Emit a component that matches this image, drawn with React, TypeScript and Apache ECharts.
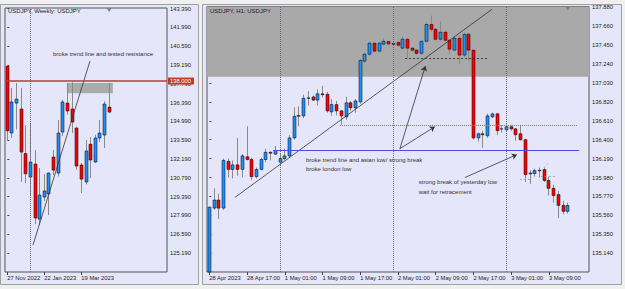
import React, { useEffect, useRef } from 'react';
import * as echarts from 'echarts';

// ---------------- Weekly chart data ----------------
const WEEK_LABELS = [
  '27 Nov 2022', '4 Dec 2022', '11 Dec 2022', '18 Dec 2022', '25 Dec 2022', '1 Jan 2023',
  '8 Jan 2023', '15 Jan 2023', '22 Jan 2023', '29 Jan 2023', '5 Feb 2023', '12 Feb 2023',
  '19 Feb 2023', '26 Feb 2023', '5 Mar 2023', '12 Mar 2023', '19 Mar 2023', '26 Mar 2023',
  '2 Apr 2023', '9 Apr 2023', '16 Apr 2023', '23 Apr 2023', '30 Apr 2023',
];
// open, high, low, close
const WEEK_OHLC: number[][] = [
  [139.1, 139.2, 133.6, 134.3],
  [134.13, 137.48, 133.76, 136.44],
  [136.36, 137.85, 134.4, 136.66],
  [135.92, 137.48, 130.48, 132.71],
  [132.6, 134.7, 130.4, 131.1],
  [130.85, 134.8, 129.5, 131.97],
  [131.82, 132.86, 127.35, 127.8],
  [127.72, 131.52, 127.3, 129.51],
  [129.36, 131.07, 129.07, 129.81],
  [129.59, 131.2, 128.02, 131.15],
  [132.34, 132.86, 131.0, 131.37],
  [131.15, 135.1, 130.9, 134.13],
  [134.2, 136.6, 133.9, 136.44],
  [136.36, 137.85, 135.5, 135.77],
  [135.92, 137.9, 134.13, 134.95],
  [134.5, 134.6, 131.4, 131.67],
  [131.75, 131.9, 129.66, 130.7],
  [130.48, 133.6, 130.3, 132.79],
  [133.3, 133.83, 130.78, 132.12],
  [131.97, 134.0, 131.9, 133.76],
  [133.76, 135.1, 133.46, 134.13],
  [133.98, 136.5, 133.01, 136.29],
  [136.06, 137.85, 135.6, 135.69],
];
const WEEK_PRICE_TICKS = [125.19, 126.59, 127.99, 129.39, 130.79, 132.19, 133.59, 134.99, 136.39, 137.79, 139.19, 140.59, 141.99, 143.39];
const WEEK_DATE_TICKS = [0, 8, 16];
const WEEK_RANGE = [123.78, 143.44];
const WEEK_SLOTS = 35;
const WEEK_RESISTANCE = 138.0;
const WEEK_ZONE = [[12.9, 137.85], [22.8, 137.1]];
const WEEK_TREND = [[5.55, 125.79], [17.86, 139.49]];
const WEEK_YEAR_SEPARATORS = [5];
const WEEK_NOTE = { at: [9.87, 140.01], text: 'broke trend line and tested resistance' };

// ---------------- H1 chart data ----------------
const H1_SESSIONS: [string, number, number][] = [['28 Apr', 9, 23], ['1 May', 0, 23], ['2 May', 0, 23], ['3 May', 0, 13]];
// open, high, low, close
const H1_OHLC: number[][] = [
  [134.93, 135.66, 134.93, 135.65],
  [135.64, 135.86, 135.62, 135.73],
  [135.73, 135.8, 135.52, 135.64],
  [135.64, 136.19, 135.62, 136.17],
  [136.16, 136.19, 135.98, 136.07],
  [136.07, 136.17, 135.97, 136.12],
  [136.12, 136.42, 136.0, 136.07],
  [136.07, 136.24, 135.98, 136.22],
  [136.21, 136.55, 136.17, 136.18],
  [136.18, 136.2, 135.95, 135.99],
  [135.99, 136.09, 135.97, 136.07],
  [136.07, 136.2, 136.06, 136.18],
  [136.18, 136.3, 136.15, 136.26],
  [136.26, 136.27, 136.17, 136.25],
  [136.24, 136.33, 136.23, 136.28],
  [136.15, 136.24, 136.12, 136.19],
  [136.19, 136.3, 136.17, 136.22],
  [136.22, 136.45, 136.2, 136.42],
  [136.42, 136.76, 136.4, 136.66],
  [136.66, 136.77, 136.55, 136.67],
  [136.665, 136.9, 136.64, 136.86],
  [136.86, 136.94, 136.78, 136.865],
  [136.875, 136.89, 136.83, 136.84],
  [136.84, 136.96, 136.78, 136.91],
  [136.91, 137.0, 136.87, 136.9],
  [136.905, 136.93, 136.7, 136.72],
  [136.71, 136.85, 136.665, 136.79],
  [136.79, 136.83, 136.67, 136.72],
  [136.72, 136.73, 136.565, 136.665],
  [136.654, 136.88, 136.62, 136.81],
  [136.81, 136.83, 136.72, 136.754],
  [136.754, 136.85, 136.7, 136.831],
  [136.82, 137.3, 136.8, 137.28],
  [137.273, 137.37, 137.25, 137.35],
  [137.35, 137.49, 137.33, 137.472],
  [137.472, 137.48, 137.37, 137.384],
  [137.384, 137.49, 137.37, 137.472],
  [137.461, 137.53, 137.45, 137.494],
  [137.49, 137.5, 137.45, 137.465],
  [137.47, 137.49, 137.44, 137.46],
  [137.48, 137.5, 137.43, 137.45],
  [137.417, 137.55, 137.4, 137.516],
  [137.516, 137.53, 137.3, 137.417],
  [137.417, 137.43, 137.38, 137.395],
  [137.395, 137.41, 137.34, 137.36],
  [137.36, 137.5, 137.34, 137.494],
  [137.494, 137.7, 137.48, 137.68],
  [137.68, 137.78, 137.6, 137.627],
  [137.627, 137.64, 137.5, 137.516],
  [137.516, 137.715, 137.5, 137.594],
  [137.594, 137.61, 137.49, 137.505],
  [137.505, 137.52, 137.35, 137.406],
  [137.395, 137.55, 137.38, 137.527],
  [137.527, 137.56, 137.24, 137.34],
  [137.34, 137.59, 137.32, 137.57],
  [137.572, 137.58, 137.27, 137.395],
  [137.395, 137.4, 136.4, 136.42],
  [136.42, 136.48, 136.38, 136.466],
  [136.466, 136.5, 136.31, 136.455],
  [136.444, 136.69, 136.42, 136.665],
  [136.654, 136.7, 136.64, 136.687],
  [136.687, 136.7, 136.45, 136.5],
  [136.52, 136.56, 136.48, 136.52],
  [136.51, 136.57, 136.49, 136.544],
  [136.544, 136.56, 136.5, 136.52],
  [136.52, 136.53, 136.39, 136.455],
  [136.466, 136.56, 136.39, 136.4],
  [136.4, 136.41, 135.93, 136.013],
  [136.02, 136.06, 135.91, 136.03],
  [136.024, 136.08, 135.99, 136.057],
  [136.06, 136.09, 135.98, 136.055],
  [136.068, 136.09, 135.93, 135.947],
  [135.947, 135.99, 135.78, 135.86],
  [135.86, 135.9, 135.7, 135.78],
  [135.79, 135.83, 135.53, 135.67],
  [135.67, 135.72, 135.57, 135.604],
  [135.604, 135.7, 135.58, 135.67],
];
const H1_PRICE_TICKS = [135.14, 135.35, 135.56, 135.77, 135.98, 136.19, 136.4, 136.61, 136.82, 137.03, 137.24, 137.45, 137.66, 137.88];
const H1_DATE_TICKS = [0, 8, 16, 24, 32, 40, 48, 56, 64, 72];
const H1_DATE_TEXT = ['28 Apr 2023', '28 Apr 17:00', '1 May 01:00', '1 May 09:00', '1 May 17:00', '2 May 01:00', '2 May 09:00', '2 May 17:00', '3 May 01:00', '3 May 09:00'];
const H1_RANGE = [134.93, 137.88];
const H1_SLOTS = 81;
const H1_ZONE_BOTTOM = 137.1;
const H1_DAY_SEPARATORS = [15, 39, 63];
const H1_TREND = [[5.43, 135.759], [59.9, 137.848]];
const H1_LONDON_LOW = { price: 136.28, from: 13.5, to: 78.4 };
const H1_ASIAN_LOW = { price: 136.565, from: 27.7, to: 77.95 };
const H1_HIGH_LINE = { price: 137.3, from: 41.5, to: 59.1 };
const H1_ARROWS = [
  [[40.4, 136.3], [45.8, 137.218]],
  [[40.4, 136.3], [47.8, 136.544]],
  [[54.2, 135.98], [65.2, 136.234]],
];
const H1_GUIDES = [
  [[65.86, 135.958], [67.98, 135.958]],
  [[70.3, 135.991], [73.5, 135.991]],
  [[70.95, 136.09], [72.0, 136.146]],
];
const H1_NOTES = [
  { at: [20.48, 136.179], text: 'broke trend line and asian low/ strong break' },
  { at: [20.48, 136.08], text: 'broke london low' },
  { at: [44.4, 135.925], text: 'strong break of yesterday low' },
  { at: [44.4, 135.814], text: 'wait for retracement' },
];

// ---------------- styles ----------------
const BULL = '#1E90FF';
const BEAR = '#FF0000';
const WICK = '#8a8a8a';
const BG = '#E6E6FA';
const FONT = 'Liberation Sans, Arial, sans-serif';
const TXT = '#333';

const h1Labels: string[] = [];
H1_SESSIONS.forEach(([d, a, b]) => {
  for (let h = a; h <= b; h++) h1Labels.push(`${d} ${String(h).padStart(2, '0')}:00`);
});
const h1Cats = [...h1Labels, ...Array(H1_SLOTS - h1Labels.length).fill('')];
const weekCats = [...WEEK_LABELS, ...Array(WEEK_SLOTS - WEEK_LABELS.length).fill('')];

const candleRender = (params: any, api: any) => {
  const idx = api.value(0);
  const o = api.value(1), h = api.value(2), l = api.value(3), c = api.value(4);
  const pO = api.coord([idx, o]);
  const pC = api.coord([idx, c]);
  const pH = api.coord([idx, h]);
  const pL = api.coord([idx, l]);
  const col = Math.floor(pO[0]);
  const top = Math.min(pO[1], pC[1]);
  const bot = Math.max(pO[1], pC[1]);
  return {
    type: 'group',
    children: [
      { type: 'line', shape: { x1: col + 0.5, y1: pH[1], x2: col + 0.5, y2: pL[1] }, style: { stroke: WICK, lineWidth: 1 } },
      {
        type: 'rect',
        shape: { x: col - 1, y: top, width: 3, height: Math.max(bot - top, 0.1) },
        style: { fill: c >= o ? BULL : BEAR, stroke: '#000', lineWidth: 0.5 },
      },
    ],
  };
};

const seg = (a: number[], b: number[], lineStyle?: any) => [{ coord: a, lineStyle }, { coord: b }];
const level = (lv: { price: number; from: number; to: number }, lineStyle: any) =>
  seg([lv.from, lv.price], [lv.to, lv.price], lineStyle);
const noteMark = (n: { at: number[]; text: string }) => ({
  coord: n.at,
  symbol: 'rect',
  symbolSize: 0,
  label: { show: true, position: 'right', distance: 0, formatter: n.text, fontSize: 6, color: TXT, fontFamily: FONT },
});
const shiftMark = (x: number, y: number) => ({
  coord: [x, y], symbol: 'triangle', symbolRotate: 180, symbolSize: [5, 4], symbolOffset: [0, 2],
  itemStyle: { color: '#808080' }, label: { show: false },
});

function buildOption(): any {
  const labelStyle = { fontSize: 5.8, color: '#222', fontFamily: FONT };
  const titleStyle = { fontSize: 6, fontWeight: 'normal', color: '#222', fontFamily: FONT };
  return {
    animation: false,
    textStyle: { fontFamily: FONT },
    graphic: [
      { type: 'rect', z: -20, silent: true, shape: { x: 0, y: 0, width: 625, height: 289 }, style: { fill: '#F0F0F0' } },
      { type: 'rect', z: -19, silent: true, shape: { x: 0.5, y: 4.5, width: 198, height: 280 }, style: { fill: BG, stroke: '#A0A0A0' } },
      { type: 'rect', z: -19, silent: true, shape: { x: 202.5, y: 4.5, width: 419, height: 280 }, style: { fill: BG, stroke: '#A0A0A0' } },
    ],
    title: [
      { text: 'USDJPY, Weekly: USDJPY', left: 8, top: 8, padding: 0, textStyle: titleStyle },
      { text: 'USDJPY, H1: USDJPY', left: 210, top: 8, padding: 0, textStyle: titleStyle },
    ],
    grid: [
      { left: 5, top: 8, width: 162, height: 264, show: true, borderColor: '#555', borderWidth: 1, backgroundColor: 'transparent' },
      { left: 207, top: 6.5, width: 382, height: 265.5, show: true, borderColor: '#555', borderWidth: 1, backgroundColor: 'transparent' },
    ],
    xAxis: [
      {
        type: 'category', gridIndex: 0, data: weekCats, boundaryGap: true,
        axisLine: { show: false },
        axisTick: { show: true, alignWithLabel: true, length: 3, interval: (i: number) => WEEK_DATE_TICKS.includes(i), lineStyle: { color: '#444' } },
        axisLabel: { ...labelStyle, align: 'left', margin: 3, interval: (i: number) => WEEK_DATE_TICKS.includes(i) },
        splitLine: { show: false },
      },
      { type: 'value', gridIndex: 0, min: -0.5, max: WEEK_SLOTS - 0.5, show: false, splitLine: { show: false } },
      {
        type: 'category', gridIndex: 1, data: h1Cats, boundaryGap: true,
        axisLine: { show: false },
        axisTick: { show: true, alignWithLabel: true, length: 3, interval: (i: number) => H1_DATE_TICKS.includes(i), lineStyle: { color: '#444' } },
        axisLabel: {
          ...labelStyle, align: 'left', margin: 3,
          interval: (i: number) => H1_DATE_TICKS.includes(i),
          formatter: (v: string, i: number) => {
            const k = H1_DATE_TICKS.indexOf(i);
            return k >= 0 ? H1_DATE_TEXT[k] : v;
          },
        },
        splitLine: { show: false },
      },
      { type: 'value', gridIndex: 1, min: -0.5, max: H1_SLOTS - 0.5, show: false, splitLine: { show: false } },
    ],
    yAxis: [
      {
        type: 'value', gridIndex: 0, position: 'right', min: WEEK_RANGE[0], max: WEEK_RANGE[1], scale: true,
        axisLine: { show: false }, splitLine: { show: false },
        axisTick: { show: true, length: 2, customValues: WEEK_PRICE_TICKS, lineStyle: { color: '#444' } },
        axisLabel: { ...labelStyle, margin: 3, customValues: WEEK_PRICE_TICKS, formatter: (v: number) => v.toFixed(3) },
      },
      {
        type: 'value', gridIndex: 1, position: 'right', min: H1_RANGE[0], max: H1_RANGE[1], scale: true,
        axisLine: { show: false }, splitLine: { show: false },
        axisTick: { show: true, length: 2, customValues: H1_PRICE_TICKS, lineStyle: { color: '#444' } },
        axisLabel: { ...labelStyle, margin: 3, customValues: H1_PRICE_TICKS, formatter: (v: number) => v.toFixed(3), verticalAlign: 'middle' },
      },
    ],
    series: [
      // ---- weekly background objects ----
      {
        type: 'line', xAxisIndex: 1, yAxisIndex: 0, z: 1, silent: true,
        data: [[0, WEEK_RANGE[0]]], symbol: 'none', lineStyle: { opacity: 0 },
        markArea: {
          silent: true,
          itemStyle: { color: '#ABABAB' },
          data: [[{ coord: WEEK_ZONE[0] }, { coord: WEEK_ZONE[1] }]],
        },
        markLine: {
          silent: true, symbol: 'none',
          data: [
            ...WEEK_YEAR_SEPARATORS.map((x) => ({ xAxis: x, lineStyle: { color: '#6a6a6a', type: 'dotted', width: 1 }, label: { show: false } })),
            {
              yAxis: WEEK_RESISTANCE,
              lineStyle: { color: '#B83A3A', type: 'solid', width: 1.5 },
              label: {
                show: true, position: 'end', distance: 1, formatter: '138.000', color: '#fff', backgroundColor: '#C0392B',
                padding: [1, 3, 0, 2], fontSize: 5.8, fontFamily: FONT,
              },
            },
          ],
        },
      },
      {
        type: 'custom', xAxisIndex: 0, yAxisIndex: 0, z: 2, silent: true,
        renderItem: candleRender,
        encode: { x: 0, y: [1, 2, 3, 4] },
        data: WEEK_OHLC.map((d, i) => [i, ...d]),
      },
      {
        type: 'line', xAxisIndex: 1, yAxisIndex: 0, z: 3, silent: true,
        data: WEEK_TREND, symbol: 'none', lineStyle: { color: '#333', width: 0.8 },
        markPoint: {
          silent: true,
          data: [noteMark(WEEK_NOTE), shiftMark(WEEK_OHLC.length - 1, WEEK_RANGE[1])],
        },
      },
      // ---- H1 background objects ----
      {
        type: 'line', xAxisIndex: 3, yAxisIndex: 1, z: 1, silent: true,
        data: [[0, H1_RANGE[0]]], symbol: 'none', lineStyle: { opacity: 0 },
        markArea: {
          silent: true,
          itemStyle: { color: '#A9A9A9' },
          data: [[{ yAxis: H1_ZONE_BOTTOM }, { yAxis: H1_RANGE[1] }]],
        },
        markLine: {
          silent: true, symbol: 'none', label: { show: false },
          data: [
            ...H1_DAY_SEPARATORS.map((x) => ({ xAxis: x, lineStyle: { color: '#6a6a6a', type: 'dotted', width: 1 } })),
            level(H1_LONDON_LOW, { color: '#4B4BEA', width: 1, type: 'solid' }),
            level(H1_ASIAN_LOW, { color: '#6F6FF2', width: 1, type: 'dotted' }),
            level(H1_HIGH_LINE, { color: '#222', width: 0.8, type: [2, 2] }),
            ...H1_GUIDES.map(([a, b]) => seg(a, b, { color: '#9a9a9a', width: 0.8, type: [2, 2] })),
          ],
        },
      },
      {
        type: 'custom', xAxisIndex: 2, yAxisIndex: 1, z: 2, silent: true,
        renderItem: candleRender,
        encode: { x: 0, y: [1, 2, 3, 4] },
        data: H1_OHLC.map((d, i) => [i, ...d]),
      },
      {
        type: 'line', xAxisIndex: 3, yAxisIndex: 1, z: 3, silent: true,
        data: H1_TREND, symbol: 'none', lineStyle: { color: '#333', width: 0.8 },
        markLine: {
          silent: true, symbol: ['none', 'arrow'], symbolSize: 5, label: { show: false },
          lineStyle: { color: '#333', width: 0.8, type: 'solid' },
          data: H1_ARROWS.map(([a, b]) => seg(a, b)),
        },
        markPoint: {
          silent: true,
          data: [...H1_NOTES.map(noteMark), shiftMark(H1_OHLC.length - 1, H1_RANGE[1])],
        },
      },
    ],
  };
}

export default function App() {
  const ref = useRef<HTMLDivElement>(null);
  useEffect(() => {
    document.body.style.margin = '0';
    if (!ref.current) return;
    const chart = echarts.init(ref.current, undefined, { renderer: 'svg' });
    chart.setOption(buildOption());
    return () => chart.dispose();
  }, []);
  return <div ref={ref} style={{ width: 625, height: 289 }} />;
}
